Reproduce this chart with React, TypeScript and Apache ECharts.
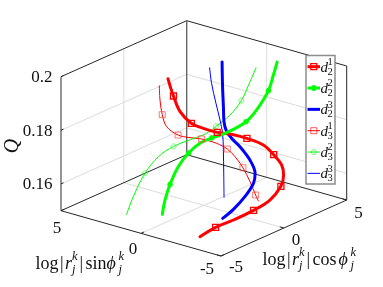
import React, { useEffect, useRef } from "react";
import * as echarts from "echarts";

const W = 383;
const H = 287;
const RED = "#ff0000";
const GREEN = "#00ff00";
const BLUE = "#0000ff";
const SERIF = "'Liberation Serif', 'DejaVu Serif', serif";

// log|r|cos(phi), log|r|sin(phi), Q
const d21Cos = [-3.59, -2.82, -2.03, -1.1, -0.28, 0.44, 0.82, 1.01, 1.0, 0.89, 0.5, 0.13, -0.36, -0.73, -1.01, -1.1, -0.93, -0.79, -0.68];
const d21Sin = [-2.58, -2.95, -3.44, -3.97, -4.35, -4.47, -4.34, -4.07, -3.58, -3.02, -2.3, -1.74, -1.12, -0.54, -0.01, 0.62, 1.17, 1.49, 1.71];
const d21Q = [0.15018, 0.15268, 0.15459, 0.15714, 0.15993, 0.16373, 0.16694, 0.16983, 0.17288, 0.17576, 0.17784, 0.17904, 0.17988, 0.18118, 0.18274, 0.1862, 0.19076, 0.19366, 0.19579];
const d21Marks = [1, 3, 5, 8, 10, 12, 14, 16];

const d22Cos = [-4.31, -3.85, -3.29, -2.56, -1.86, -1.23, -0.69, -0.05, 0.89, 1.55, 2.44, 3.01, 3.46];
const d22Sin = [-0.79, -0.6, -0.47, -0.41, -0.51, -0.72, -1.03, -1.46, -1.94, -2.08, -2.12, -1.98, -1.86];
const d22Q = [0.15698, 0.16106, 0.16549, 0.17046, 0.17427, 0.17692, 0.17832, 0.17968, 0.18263, 0.18586, 0.19127, 0.19571, 0.19939];
const d22Marks = [2, 4, 6, 8, 10];

const d23Cos = [-2.36, -1.76, -1.05, -0.42, -0.11, 0.05, 0.05, -0.02, 0.0, 0.14, 0.5, 0.98, 1.59];
const d23Sin = [-3.03, -3.23, -3.39, -3.43, -3.29, -2.84, -2.22, -1.75, -1.39, -1.15, -0.83, -0.4, 0.11];
const d23Q = [0.15518, 0.15765, 0.16115, 0.16488, 0.16773, 0.1716, 0.17553, 0.17801, 0.18046, 0.18287, 0.18717, 0.19291, 0.19998];

const d31Cos = [-1.15, -1.49, -1.78, -1.94, -1.76, -1.42, -1.06, -0.66, -0.44, -0.37, -0.38, -0.49, -0.64, -0.7];
const d31Sin = [1.88, 1.57, 1.2, 0.8, 0.23, -0.25, -0.69, -1.32, -1.81, -2.24, -2.74, -3.27, -3.74, -3.96];
const d31Q = [0.19387, 0.18976, 0.18553, 0.18205, 0.17954, 0.17865, 0.17814, 0.17674, 0.175, 0.17272, 0.16948, 0.1654, 0.16151, 0.15977];
const d31Marks = [2, 4, 6, 8, 10, 12];

const d32Cos = [-5.52, -4.85, -3.86, -2.98, -2.2, -1.19, -0.75, -0.25, 0.51, 1.26, 2.04, 2.6];
const d32Sin = [0.49, 0.6, 0.65, 0.5, 0.16, -0.48, -0.76, -0.95, -1.23, -1.35, -1.28, -1.22];
const d32Q = [0.15736, 0.16235, 0.16891, 0.17354, 0.17634, 0.17867, 0.17971, 0.18161, 0.18471, 0.1887, 0.19405, 0.19799];
const d32Marks = [2, 4, 7, 9];

const d33Cos = [1.02, 0.69, 0.33, 0.05, -0.2, -0.6, -1.18, -1.78];
const d33Sin = [0.44, 0.06, -0.5, -0.97, -1.33, -1.69, -2.17, -2.66];
const d33Q = [0.19849, 0.19398, 0.1882, 0.18339, 0.17954, 0.17475, 0.16807, 0.16119];

const qTicks = [0.16, 0.18, 0.2];
const qTickLabels = ["0.16", "0.18", "0.2"];
const planeTicks = [-5, 0, 5];

// Projection of the MATLAB-like 3D view onto the page.
const project = (c: number, s: number, q: number): [number, number] => [
  203.85 + 12.57 * c - 16 * s,
  205.35 - 5.6 * c - 4.53 * s - 2680 * (q - 0.15),
];

const path = (pts: number[][]) => pts.map((p) => project(p[0], p[1], p[2]));

const curve = (
  name: string,
  cos: number[],
  sin: number[],
  q: number[],
  color: string,
  width: number,
  symbol: string,
  size: number,
  marks: number[],
  fill: string,
  border: string,
  borderWidth: number,
) => ({
  name,
  type: "line",
  smooth: 0.35,
  z: 10,
  silent: true,
  showSymbol: true,
  lineStyle: { color, width, cap: "round" },
  itemStyle: { color: fill, borderColor: border, borderWidth },
  data: cos.map((c, i) => ({
    value: project(c, sin[i], q[i]),
    symbol: marks.includes(i) ? symbol : "none",
    symbolSize: size,
  })),
});

const edge = (pts: number[][], color: string, width: number, z = 2) => ({
  type: "line",
  silent: true,
  z,
  symbol: "none",
  lineStyle: { color, width },
  data: path(pts),
});

const gridColor = "#dcdcdc";
const edgeColor = "#262626";
const axisColor = "#666666";

const frame = [
  edge([[0, 5, 0.15], [0, 5, 0.2]], gridColor, 1),
  edge([[5, 0, 0.15], [5, 0, 0.2]], gridColor, 1),
  edge([[0, 5, 0.15], [0, -5, 0.15]], gridColor, 1),
  edge([[-5, 0, 0.15], [5, 0, 0.15]], gridColor, 1),
  ...qTicks.slice(0, 2).flatMap((q) => [
    edge([[-5, 5, q], [5, 5, q], [5, -5, q]], gridColor, 1),
  ]),
  edge([[-5, 5, 0.2], [5, 5, 0.2], [5, -5, 0.2], [5, -5, 0.15]], edgeColor, 1, 3),
  edge([[-5, 5, 0.15], [5, 5, 0.15], [5, -5, 0.15], [-5, -5, 0.15], [-5, 5, 0.15]], edgeColor, 1, 3),
  edge([[5, 5, 0.15], [5, 5, 0.2]], axisColor, 1.4, 3),
  edge([[-5, 5, 0.15], [-5, 5, 0.2]], axisColor, 1.4, 3),
  ...qTicks.map((q) => edge([[-5, 5, q], [-4.8, 5, q]], edgeColor, 1, 3)),
  ...planeTicks.map((s) => edge([[-5, s, 0.15], [-4.75, s, 0.15]], edgeColor, 1, 3)),
  ...planeTicks.map((c) => edge([[c, -5, 0.15], [c, -4.75, 0.15]], edgeColor, 1, 3)),
];

type Piece = [string, number, number, number, boolean?];

const txt = (
  text: string,
  x: number,
  y: number,
  fontSize: number,
  italic = false,
  align = "left",
  extra: object = {},
) => ({
  type: "text",
  z: 50,
  silent: true,
  ...extra,
  style: {
    text,
    x,
    y,
    fontSize,
    fontFamily: SERIF,
    fontStyle: italic ? "italic" : "normal",
    fill: "#111111",
    align,
    verticalAlign: "middle",
  },
});

const mathLabel = (x0: number, y: number, fn: string, fnX: number, phiX: number) => {
  const pieces: Piece[] = [
    ["log", 0, 0, 18],
    ["|", 24.5, 0, 18],
    ["r", 29.5, 0, 18, true],
    ["k", 36.5, -7, 12.5, true],
    ["j", 36.5, 6, 12.5, true],
    ["|", 44, 0, 18],
    [fn, fnX, 0, 18],
    ["\u03d5", phiX, 0, 18, true],
    ["k", phiX + 12, -7, 12.5, true],
    ["j", phiX + 12, 6, 12.5, true],
  ];
  return pieces.map((p) => txt(p[0], x0 + p[1], y + p[2], p[3], !!p[4]));
};

const legendRows = [
  { sup: "1", sub: "2", color: RED, width: 3, mark: "rect", size: 6, op: 1, lw: 1.3 },
  { sup: "2", sub: "2", color: GREEN, width: 3, mark: "dot", size: 5, op: 1, lw: 1 },
  { sup: "3", sub: "2", color: BLUE, width: 3, mark: "", size: 0, op: 1, lw: 1 },
  { sup: "1", sub: "3", color: RED, width: 1, mark: "rect", size: 6, op: 0.65, lw: 1 },
  { sup: "2", sub: "3", color: GREEN, width: 1, mark: "circle", size: 5, op: 0.65, lw: 1 },
  { sup: "3", sub: "3", color: BLUE, width: 1, mark: "", size: 0, op: 1, lw: 1 },
];

const legend = () => {
  const left = 306;
  const top = 55.5;
  const out: object[] = [
    {
      type: "rect",
      z: 40,
      silent: true,
      shape: { x: left, y: top, width: 29, height: 128.5 },
      style: { fill: "#ffffff", stroke: "#8c8c8c", lineWidth: 1.5 },
    },
  ];
  legendRows.forEach((r, i) => {
    const y = 66.7 + i * 21.33;
    out.push({
      type: "line",
      z: 41,
      silent: true,
      shape: { x1: 307.5, y1: y, x2: 320, y2: y },
      style: { stroke: r.color, lineWidth: r.width },
    });
    if (r.mark === "rect") {
      out.push({
        type: "rect",
        z: 42,
        silent: true,
        shape: { x: 313.8 - r.size / 2, y: y - r.size / 2, width: r.size, height: r.size },
        style: { fill: "none", stroke: r.color, lineWidth: r.lw, opacity: r.op },
      });
    } else if (r.mark) {
      out.push({
        type: "circle",
        z: 42,
        silent: true,
        shape: { cx: 313.8, cy: y, r: r.size / 2 },
        style: {
          fill: r.mark === "dot" ? r.color : "none",
          stroke: r.color,
          lineWidth: r.lw,
          opacity: r.op,
        },
      });
    }
    out.push(txt("d", 320.4, y, 15, true));
    out.push(txt(r.sup, 327.6, y - 5.2, 10.5));
    out.push(txt(r.sub, 327.6, y + 4.6, 10.5));
  });
  return out;
};

export default function App() {
  const ref = useRef<HTMLDivElement>(null);
  useEffect(() => {
    document.body.style.margin = "0";
    const chart = echarts.init(ref.current!, undefined, { renderer: "svg" });
    chart.setOption({
      animation: false,
      backgroundColor: "#ffffff",
      grid: { left: 0, right: 0, top: 0, bottom: 0 },
      xAxis: { type: "value", min: 0, max: W, show: false },
      yAxis: { type: "value", min: 0, max: H, inverse: true, show: false },
      tooltip: { show: false },
      series: [
        ...frame,
        curve("d31", d31Cos, d31Sin, d31Q, RED, 1, "rect", 6, d31Marks, "rgba(255,255,255,0)", "rgba(255,70,70,0.8)", 0.9),
        curve("d32", d32Cos, d32Sin, d32Q, GREEN, 1, "circle", 5, d32Marks, "rgba(255,255,255,0)", "rgba(70,255,70,0.9)", 0.9),
        curve("d33", d33Cos, d33Sin, d33Q, BLUE, 1, "none", 0, [], BLUE, BLUE, 0),
        curve("d23", d23Cos, d23Sin, d23Q, BLUE, 3, "none", 0, [], BLUE, BLUE, 0),
        curve("d21", d21Cos, d21Sin, d21Q, RED, 3, "rect", 6, d21Marks, "rgba(255,255,255,0)", RED, 1.3),
        curve("d22", d22Cos, d22Sin, d22Q, GREEN, 3, "circle", 5.5, d22Marks, GREEN, GREEN, 0),
      ],
      graphic: [
        ...qTickLabels.map((t, i) => txt(t, 52.5, project(-5, 5, qTicks[i])[1], 17, false, "right")),
        txt("5", 57, 227, 17, false, "center"),
        txt("0", 133, 248, 17, false, "center"),
        txt("-5", 207, 268, 17, false, "center"),
        txt("-5", 236, 266, 17, false, "center"),
        txt("0", 296, 239, 17, false, "center"),
        txt("5", 358.5, 212, 17, false, "center"),
        {
          type: "text",
          z: 50,
          silent: true,
          x: 11,
          y: 146,
          rotation: Math.PI / 2,
          style: {
            text: "Q",
            fontSize: 20,
            fontFamily: SERIF,
            fontStyle: "italic",
            fill: "#111111",
            align: "center",
            verticalAlign: "middle",
          },
        },
        ...mathLabel(35.5, 263, "sin", 50, 71),
        ...mathLabel(262.5, 259, "cos", 50, 76),
        ...legend(),
      ],
    });
    return () => chart.dispose();
  }, []);
  return (
    <div
      ref={ref}
      style={{ position: "absolute", left: 0, top: 0, width: W, height: H, filter: "blur(0.35px)" }}
    />
  );
}
